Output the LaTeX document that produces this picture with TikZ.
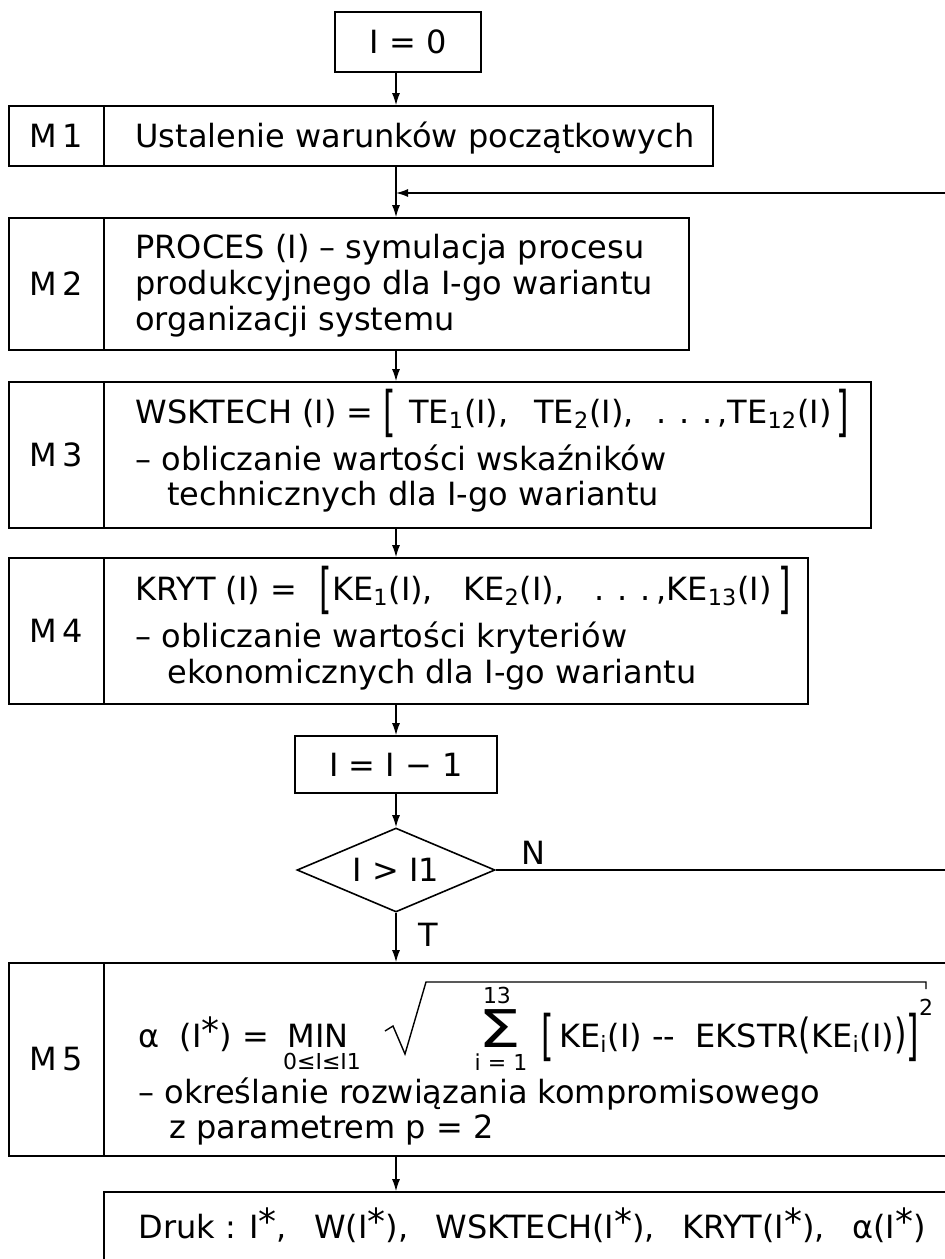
\documentclass[tikz,border=0pt]{standalone}
\usepackage{graphicx}
\usepackage{fontspec}
\setmainfont{DejaVu Sans}
\usetikzlibrary{shapes.geometric,arrows.meta}
\newcommand{\stt}{\raisebox{0.12em}{\fontsize{18}{18}\selectfont *}}
\newcommand{\sbs}[1]{\textsubscript{#1}}
\newcommand{\sm}{\fontsize{11}{11}\selectfont}
\newcommand{\lbr}{\raisebox{-0.23em}{\scalebox{1}[1.7]{[}}}
\newcommand{\rbr}{\raisebox{-0.23em}{\scalebox{1}[1.7]{]}}}
\newcommand{\lpar}{\raisebox{-0.05em}{\scalebox{1}[1.3]{(}}}
\newcommand{\rpar}{\raisebox{-0.05em}{\scalebox{1}[1.3]{)}}}
\newcommand{\dts}{.\hspace{0.4em}.\hspace{0.4em}.}
\newcommand{\gp}{\hspace{0.85em}}
\begin{document}
\begin{tikzpicture}[x=0.5pt,y=-0.5pt,
  every node/.style={font=\fontsize{16}{18}\selectfont},
  frame/.style={draw, line width=0.8pt, inner sep=0pt, rectangle},
  txt/.style={anchor=base west, inner sep=0pt},
  conn/.style={line width=0.7pt},
  arr/.style={conn, -{Latex[length=6pt,width=4pt]}},
]
\useasboundingbox (0,0) rectangle (944,1259);
\fill[white] (0,0) rectangle (944,1259);
\coordinate (colx) at (396,0);
\coordinate (loopx) at (965,0);
\coordinate (join) at (396,193);

% I = 0
\node[frame, minimum width=73pt, minimum height=30pt] (init) at (408,42) {I = 0};

% M1
\node[frame, minimum width=47.5pt, minimum height=30pt] (M1l) at (56.5,136) {M\,1};
\node[frame, minimum width=304.5pt, minimum height=30pt] (M1c) at (408.5,136) {};
\node[txt] (M1t) at (135,147) {Ustalenie warunków początkowych};

% M2
\node[frame, minimum width=47.5pt, minimum height=66pt] (M2l) at (56.5,284) {M\,2};
\node[frame, minimum width=292.5pt, minimum height=66pt] (M2c) at (396.5,284) {};
\node[txt] (M2a) at (135,258) {PROCES (I) – symulacja procesu};
\node[txt] (M2b) at (135,294) {produkcyjnego dla I-go wariantu};
\node[txt] (M2c3) at (135,330) {organizacji systemu};

% M3
\node[frame, minimum width=47.5pt, minimum height=73pt] (M3l) at (56.5,455) {M\,3};
\node[frame, minimum width=383.5pt, minimum height=73pt] (M3c) at (487.5,455) {};
\node[txt] (M3a) at (135,423) {WSKTECH (I) = \lbr\hspace{0.4em}TE\sbs{1}(I),\hspace{0.8em}TE\sbs{2}(I),\hspace{0.7em}\dts\,,TE\sbs{12}(I)\hspace{0.15em}\rbr};
\node[txt] (M3b) at (135,470) {– obliczanie wartości wskaźników};
\node[txt] (M3d) at (167,505) {technicznych dla I-go wariantu};

% M4
\node[frame, minimum width=47.5pt, minimum height=73pt] (M4l) at (56.5,631) {M\,4};
\node[frame, minimum width=352pt, minimum height=73pt] (M4c) at (456,631) {};
\node[txt] (M4a) at (135,600) {KRYT (I) =\hspace{0.7em}\lbr KE\sbs{1}(I),\hspace{0.95em}KE\sbs{2}(I),\hspace{0.95em}\dts\,,KE\sbs{13}(I)\hspace{0.2em}\rbr};
\node[txt] (M4b) at (135,647) {– obliczanie wartości kryteriów};
\node[txt] (M4d) at (167,683) {ekonomicznych dla I-go wariantu};

% I = I - 1
\node[frame, minimum width=101pt, minimum height=28.5pt] (dec) at (396,764.5) {I = I − 1};

% decision
\node[draw, diamond, line width=0.8pt, minimum width=99pt, minimum height=42pt, inner sep=0pt] (cond) at (396,870) {};
\node[inner sep=0pt] (condt) at (396,870) {I > I1};
\node[inner sep=0pt] (Nl) at (533,853) {N};
\node[inner sep=0pt] (Tl) at (428,935) {T};

% M5
\node[frame, minimum width=47.5pt, minimum height=96.5pt] (M5l) at (56.5,1059.5) {M\,5};
\node[frame, minimum width=430.5pt, minimum height=96.5pt] (M5c) at (534.5,1059.5) {};
\node[txt] (f1) at (138,1047) {α\ \ (I\stt) =};
\node[anchor=base, inner sep=0pt] (fmin) at (318,1047) {MIN};
\node[inner sep=0pt] (fminsub) at (322,1061) {\sm 0≤I≤I1};
\node[anchor=base, inner sep=0pt, text depth=0pt] (fsig) at (500,1047) {\fontsize{26}{26}\selectfont\scalebox{1.3}[1]{Σ}};
\node[inner sep=0pt] (fup) at (497,995) {\sm 13};
\node[inner sep=0pt] (flow) at (501,1062) {\sm i = 1};
\node[txt] (f2) at (541,1047) {\lbr\,KE\sbs{i}(I)\ -{}-\ \ EKSTR\lpar KE\sbs{i}(I)\rpar\rbr\raisebox{1.0em}{\sm 2}};
\draw[conn] (385,1031) -- (393,1026) -- (405,1054) -- (426,982) -- (926,982) -- (926,989);
\node[txt] (M5b) at (138,1103) {– określanie rozwiązania kompromisowego};
\node[txt] (M5d) at (169,1138) {z parametrem p = 2};

% Druk
\node[frame, minimum width=430.5pt, minimum height=41.5pt] (druk) at (534.5,1233.5) {};
\node[txt] (drukt) at (138,1238) {Druk : I\stt,\gp W(I\stt),\gp WSKTECH(I\stt),\gp KRYT(I\stt),\gp α(I\stt)};

% connectors
\draw[arr] (init.south -| colx) -- (M1c.north -| colx);
\draw[conn] (M1c.south -| colx) -- (join);
\draw[arr] (join) -- (M2c.north -| colx);
\draw[arr] (cond.east) -- (cond.east -| loopx) |- (join);
\draw[arr] (M2c.south -| colx) -- (M3c.north -| colx);
\draw[arr] (M3c.south -| colx) -- (M4c.north -| colx);
\draw[arr] (M4c.south -| colx) -- (dec.north);
\draw[arr] (dec.south) -- (cond.north);
\draw[arr] (cond.south) -- (M5c.north -| cond.south);
\draw[arr] (M5c.south -| colx) -- (druk.north -| colx);
\end{tikzpicture}
\end{document}
